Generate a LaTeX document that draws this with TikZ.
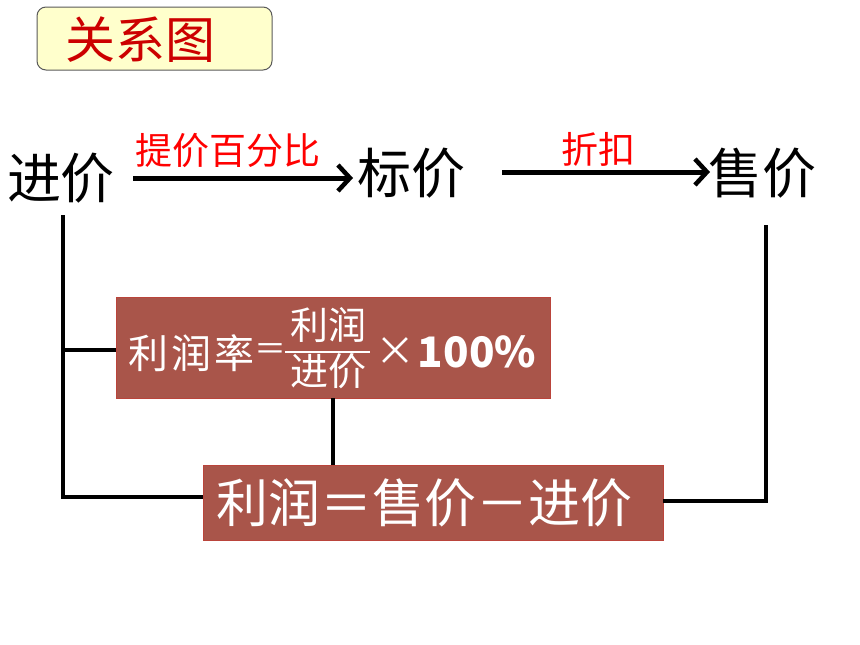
\documentclass[tikz,border=0pt]{standalone}
\usepackage{fontspec}
\setmainfont{Noto Sans CJK SC}
\usetikzlibrary{arrows.meta}
\definecolor{boxred}{HTML}{A9554A}
\definecolor{titlefill}{HTML}{FFFFCC}
\definecolor{titlered}{HTML}{CC0000}
\newcommand{\fz}[1]{\fontsize{#1}{#1}\selectfont}
\tikzset{
  txt/.style={inner sep=0pt},
  redlbl/.style={inner sep=0pt, text=red, font=\fz{37}},
  mainlbl/.style={inner sep=0pt, font=\fz{54}},
  formbox/.style={fill=boxred, draw=boxred!80!red, line width=0.8pt, inner sep=0pt},
  wt/.style={inner sep=0pt, text=white},
  conn/.style={line width=4.5pt, line join=miter},
  arr/.style={line width=5pt, -{Straight Barb[length=12pt,width=26pt,line width=4.5pt]}}
}
\begin{document}
\begin{tikzpicture}[x=1pt,y=-1pt]
\useasboundingbox (0,0) rectangle (860,645);
% title
\node[draw=black!65, fill=titlefill, rounded corners=9pt, line width=1pt,
      minimum width=235pt, minimum height=63pt, inner sep=0pt] (title) at (154.5,38.5) {};
\node[txt, text=titlered, font=\fz{50}] (titletxt) at (140,40) {关系图};
% main labels
\node[mainlbl] (jin) at (61,178) {进价};
\node[mainlbl] (biao) at (411,173) {标价};
\node[mainlbl] (shou) at (762,173) {售价};
\coordinate (a1s) at (133,178);
\coordinate (a1e) at (353,178);
\coordinate (a2s) at (502,172);
\coordinate (a2e) at (710,172);
\draw[arr] (a1s) -- (a1e);
\draw[arr] (a2s) -- (a2e);
\node[redlbl] (l1) at (228,151) {提价百分比};
\node[redlbl] (l2) at (598,149) {折扣};
% boxes
\node[formbox, minimum width=434pt, minimum height=101pt] (b1) at (333.5,347.5) {};
\node[wt, font=\fz{40}] (b1a) at (191,353) {利\kern3pt 润\kern3pt 率};
\node[wt, font=\fz{32}] (b1eq) at (270,352) {＝};
\node[wt, font=\fz{38}] (b1n) at (328,325) {利润};
\node[wt, font=\fz{38}] (b1d) at (328,371) {进价};
\coordinate (fl) at (285,352);
\coordinate (fr) at (370,352);
\draw[white, line width=2.5pt] (fl) -- (fr);
\node[wt, font=\fz{40}] (b1x) at (395,352) {×};
\node[wt, font=\fz{42}\bfseries] (b1c) at (477,352) {100\%};
\node[formbox, minimum width=460pt, minimum height=75pt] (b2) at (433,502.5) {};
\node[wt, font=\fz{52}] (b2t) at (424,503) {利润＝售价－进价};
% connectors
\coordinate (c1) at (63,215);
\coordinate (c2) at (63,497);
\coordinate (c3) at (63,350);
\coordinate (m1) at (333,398);
\coordinate (m2) at (333,465);
\coordinate (r1) at (766,225);
\coordinate (r2) at (766,501);
\draw[conn] (c1) -- (c2) -- (b2.west |- c2);
\draw[conn] (c3) -- (b1.west |- c3);
\draw[conn] (m1) -- (m2);
\draw[conn] (b2.east |- r2) -- (r2) -- (r1);
\end{tikzpicture}
\end{document}
